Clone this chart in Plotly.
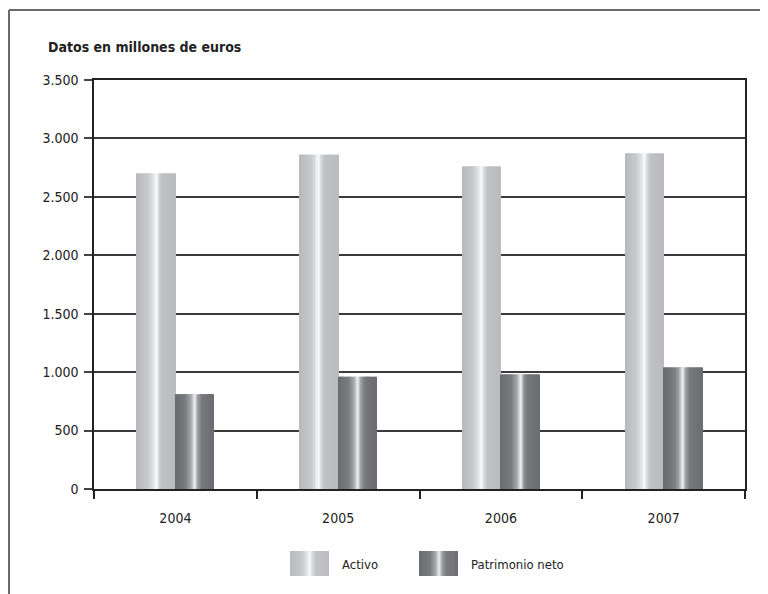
import plotly.graph_objects as go

# ---------------- data ----------------
years = ["2004", "2005", "2006", "2007"]
activo = [2700, 2860, 2760, 2870]
patrimonio_neto = [810, 960, 980, 1040]
series_names = ["Activo", "Patrimonio neto"]
y_tick_values = [0, 500, 1000, 1500, 2000, 2500, 3000, 3500]
y_tick_labels = ["0", "500", "1.000", "1.500", "2.000", "2.500", "3.000", "3.500"]
chart_title = "Datos en millones de euros"

# ---------------- style ----------------
FONT = "Liberation Sans Narrow, DejaVu Sans Condensed, Arial Narrow, sans-serif"
TEXT = "#222222"
OFF = 8  # page body margin offset
W, H = 768 - OFF, 594 - OFF
L, R, T, B = 94 - OFF, 745 - OFF, 80 - OFF, 489 - OFF  # plot area in pixels

light_stops = [(0.00, (183, 184, 188)), (0.30, (200, 201, 204)), (0.42, (222, 223, 225)),
               (0.51, (250, 250, 250)), (0.57, (218, 219, 221)), (0.66, (192, 193, 196)),
               (1.00, (186, 187, 191))]
dark_stops = [(0.00, (106, 107, 111)), (0.28, (122, 123, 127)), (0.42, (165, 166, 169)),
              (0.52, (240, 240, 240)), (0.59, (160, 161, 164)), (0.70, (118, 119, 123)),
              (1.00, (108, 109, 113))]


def grad(stops, t):
    for (p0, c0), (p1, c1) in zip(stops[:-1], stops[1:]):
        if p0 <= t <= p1:
            f = (t - p0) / (p1 - p0) if p1 > p0 else 0
            c = [round(a + (b - a) * f) for a, b in zip(c0, c1)]
            return "rgb(%d,%d,%d)" % tuple(c)
    return "rgb(%d,%d,%d)" % stops[-1][1]


N = 40
BW = 38.5 / ((R - L) / 4)  # bar width in category units

fig = go.Figure()
for values, stops, base in [(activo, light_stops, -BW), (patrimonio_neto, dark_stops, 0.0)]:
    for i in range(N):
        off = base + i * BW / N
        wid = min(BW / N * 1.6, BW - i * BW / N)
        fig.add_trace(go.Bar(
            x=years, y=values, offset=off, width=wid,
            marker=dict(color=grad(stops, (i + 0.5) / N), line=dict(width=0)),
            showlegend=False, hoverinfo="skip",
        ))


def px_x(p):
    return (p - OFF - L) / (R - L)


def px_y(p):
    return (B - (p - OFF)) / (B - T)


shapes = []
# outer frame (left and top lines)
shapes.append(dict(type="line", xref="paper", yref="paper", x0=px_x(9), x1=px_x(9),
                   y0=px_y(10), y1=px_y(600), line=dict(color="#6a6a6a", width=2)))
shapes.append(dict(type="line", xref="paper", yref="paper", x0=px_x(9), x1=px_x(775),
                   y0=px_y(10), y1=px_y(10), line=dict(color="#6a6a6a", width=2)))

# legend swatches
annotations = []
for name, stops, sx, tx in [(series_names[0], light_stops, 290, 340),
                            (series_names[1], dark_stops, 419, 469)]:
    sw = 39
    for i in range(N):
        x0 = sx + i * sw / N
        x1 = min(x0 + sw / N * 1.6, sx + sw)
        shapes.append(dict(type="rect", xref="paper", yref="paper",
                           x0=px_x(x0), x1=px_x(x1), y0=px_y(576), y1=px_y(551),
                           fillcolor=grad(stops, (i + 0.5) / N), line=dict(width=0)))
    annotations.append(dict(text=name, xref="paper", yref="paper", x=px_x(tx), y=px_y(564),
                            xanchor="left", yanchor="middle", showarrow=False,
                            font=dict(family=FONT, size=13, color=TEXT)))

annotations.append(dict(text="<b>" + chart_title + "</b>", xref="paper", yref="paper",
                        x=px_x(46), y=px_y(47), xanchor="left", yanchor="middle",
                        showarrow=False, font=dict(family=FONT, size=14, color=TEXT)))

fig.update_layout(
    width=W, height=H,
    margin=dict(l=L, r=W - R, t=T, b=H - B, pad=0),
    paper_bgcolor="white", plot_bgcolor="white",
    barmode="overlay",
    shapes=shapes, annotations=annotations,
    font=dict(family=FONT, size=14, color=TEXT),
    showlegend=False,
)
fig.update_xaxes(
    type="category", range=[-0.5, 3.5],
    showline=True, linecolor="#222222", linewidth=1.5, mirror=True,
    ticks="outside", tickson="boundaries", ticklen=8, tickcolor="#222222", tickwidth=1.5,
    showgrid=False, ticklabelstandoff=15,
    tickfont=dict(family=FONT, size=14, color=TEXT),
)
fig.update_yaxes(
    range=[0, 3500], tickvals=y_tick_values, ticktext=y_tick_labels,
    showline=True, linecolor="#222222", linewidth=1.5, mirror=True,
    ticks="outside", ticklen=8, tickcolor="#444444", tickwidth=1.5,
    showgrid=True, gridcolor="#3a3a3a", gridwidth=1.5, zeroline=False,
    ticklabelstandoff=3,
    tickfont=dict(family=FONT, size=14, color=TEXT),
)

fig.write_html("out.html")
